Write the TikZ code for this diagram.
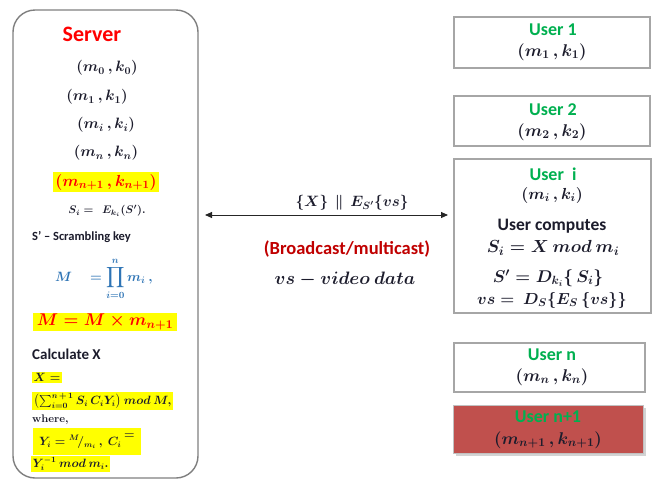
\RequirePackage{fix-cm}
\documentclass[tikz,border=0pt]{standalone}
\usepackage{amsmath}
\usepackage{fontspec}
\setmainfont{Carlito}
\usetikzlibrary{arrows.meta,shadows}

\definecolor{srvred}{HTML}{FF0000}
\definecolor{usrgreen}{HTML}{00B050}
\definecolor{castred}{HTML}{C00000}
\definecolor{prodblue}{HTML}{2E74B5}
\definecolor{hilite}{HTML}{FFFF00}
\definecolor{boxgray}{HTML}{A6A6A6}
\definecolor{srvgray}{HTML}{7F7F7F}
\definecolor{lastfill}{HTML}{C0504D}
\definecolor{ink}{HTML}{1C1C2C}

\newcommand{\fsz}[1]{\fontsize{#1}{#1}\selectfont}

\tikzset{
  serverbox/.style={draw=srvgray, line width=1.4pt, rounded corners=22pt, inner sep=0pt},
  userbox/.style={draw=boxgray, line width=1.6pt, fill=white, inner sep=0pt},
  lastbox/.style={draw=boxgray!70, line width=1pt, fill=lastfill, inner sep=0pt,
    drop shadow={shadow xshift=2.5pt, shadow yshift=-2.5pt, opacity=0.35}},
  mt/.style={text=ink, inner sep=0pt, font={\fsz{#1}\boldmath}},
  sf/.style={inner sep=0pt, font={\fsz{#1}\bfseries}},
  hl/.style={fill=hilite, inner sep=2pt},
  link/.style={line width=0.9pt, draw=black!85, {Triangle[length=7pt,width=6pt]}-{Triangle[length=7pt,width=6pt]}}
}

\begin{document}
\begin{tikzpicture}[x=1pt, y=-1pt]
\useasboundingbox (0,0) rectangle (653,480);

% ---------------- server side ----------------
\node[serverbox, minimum width=185pt, minimum height=468pt] (server) at (105.5,244) {};
\node[sf=22, text=srvred] (srvtitle) at (92,34) {Server};

\node[mt=15] (k0) at (107,68)  {$(m_0\,,k_0)$};
\node[mt=15] (k1) at (97,97)   {$(m_1\,,k_1)$};
\node[mt=15] (ki) at (106,125) {$(m_i\,,k_i)$};
\node[mt=15] (kn) at (106,153) {$(m_n\,,k_n)$};
\node[mt=16, hl, text=srvred] (kn1) at (106,182) {$(m_{n+1}\,,k_{n+1})$};

\node[mt=11] (si) at (107,211) {$S_i =\ \ E_{k_i}(S').$};
\node[sf=12.5, anchor=west, text=ink] (skey) at (32,237) {S' -- Scrambling key};

\node[mt=13.5, text=prodblue] (prod) at (104,279) {$M\quad=\displaystyle\prod_{i=0}^{n} m_i\ ,$};
\node[mt=17, hl, text=srvred, inner xsep=4pt, inner ysep=1.5pt] (bigm) at (105,322) {$M = M \times m_{n+1}$};

\node[sf=15, anchor=west, text=ink] (calc) at (32,354) {Calculate X};
\node[mt=12, hl, anchor=west, inner sep=1.5pt] (xeq) at (32,377.5) {$X =$};
\node[mt=12, hl, anchor=west, inner sep=1.5pt] (xsum) at (32,401) {$\bigl(\sum_{i=0}^{n\,+\,1} S_i\, C_i Y_i\bigr)\ mod\ M,$};
\node[mt=11, anchor=west] (where) at (32,419.5) {$\mathbf{where,}$};
\node[mt=12, hl, anchor=west, minimum height=27pt, inner xsep=6pt] (yi) at (33,441)
  {$Y_i = {}^{M}\!/_{m_i}\ ,\ C_i\ \raisebox{7pt}{$=$}$};
\node[mt=12, hl, anchor=west, inner sep=1.5pt] (yinv) at (31,464) {$Y_i^{-1}\ mod\ m_i.$};

% ---------------- user side ----------------
\node[userbox, minimum width=196pt, minimum height=51pt] (u1) at (552,42.5) {};
\node[sf=18, text=usrgreen] (u1t) at (553,30) {User 1};
\node[mt=17] (u1k) at (552,52) {$(m_1\,,k_1)$};

\node[userbox, minimum width=196pt, minimum height=50pt] (u2) at (552,121) {};
\node[sf=18, text=usrgreen] (u2t) at (553,110) {User 2};
\node[mt=17] (u2k) at (552,132) {$(m_2\,,k_2)$};

\node[userbox, minimum width=197pt, minimum height=154pt] (ui) at (552.5,236) {};
\node[sf=18, text=usrgreen] (uit) at (553,174) {User\ \ i};
\node[mt=16] (uik) at (552,195) {$(m_i\,,k_i)$};
\node[sf=17.5, text=ink] (uic) at (552,226) {User computes};
\node[mt=17.5] (uis) at (553,248) {$S_i = X\ mod\ m_i$};
\node[mt=17] (uid) at (548,278) {$S' = D_{k_i}\{\,S_i\}$};
\node[mt=16] (uiv) at (552,300) {$vs =\ D_S\{E_S\,\{vs\}\}$};

\node[userbox, minimum width=191pt, minimum height=49pt] (un) at (549.5,367.5) {};
\node[sf=18, text=usrgreen] (unt) at (552,355) {User n};
\node[mt=17] (unk) at (552,377) {$(m_n\,,k_n)$};

\node[lastbox, minimum width=190pt, minimum height=48pt] (un1) at (548,429) {};
\node[sf=18, text=usrgreen] (un1t) at (548,417) {User n+1};
\node[mt=17] (un1k) at (548,440) {$(m_{n+1}\,,k_{n+1})$};

% ---------------- broadcast link ----------------
\coordinate (txend) at (205,215);
\coordinate (rxend) at (448,215);
\draw[link] (txend) -- (rxend);
\node[mt=15] (payload) at (352,203) {$\{X\}\ \ \|\ \ E_{S'}\{vs\}$};
\node[sf=18.5, text=castred] (cast) at (347,249) {(Broadcast/multicast)};
\node[mt=18] (vsdef) at (345,279) {$vs - video\ data$};

\end{tikzpicture}
\end{document}
